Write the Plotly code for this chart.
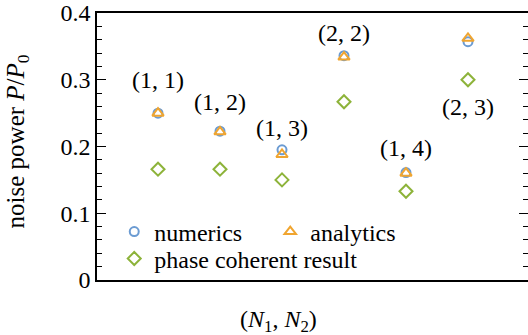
import plotly.graph_objects as go

categories = ["(1, 1)", "(1, 2)", "(1, 3)", "(2, 2)", "(1, 4)", "(2, 3)"]
positions = [1, 2, 3, 4, 5, 6]
numerics = [0.250, 0.223, 0.195, 0.336, 0.161, 0.357]
analytics = [0.250, 0.222, 0.188, 0.334, 0.160, 0.362]
phase_coherent = [0.166, 0.166, 0.150, 0.267, 0.133, 0.300]
label_y = [0.300, 0.267, 0.228, 0.370, 0.198, 0.259]

BLUE = "#6b9bd2"
ORANGE = "#f0a530"
GREEN = "#8db33a"
FONT = "Times New Roman, Liberation Serif, serif"
FS = 24

fig = go.Figure()
fig.add_trace(go.Scatter(x=positions, y=numerics, mode="markers", name="numerics", legend="legend",
                         marker=dict(symbol="circle-open", size=9, color=BLUE, line=dict(width=2))))
fig.add_trace(go.Scatter(x=positions, y=analytics, mode="markers", name="analytics", legend="legend",
                         marker=dict(symbol="triangle-up-open", size=10, color=ORANGE, line=dict(width=2))))
fig.add_trace(go.Scatter(x=positions, y=phase_coherent, mode="markers", name="phase coherent result",
                         legend="legend2",
                         marker=dict(symbol="diamond-open", size=10, color=GREEN, line=dict(width=2))))
# invisible trace for right-hand tick axis
fig.add_trace(go.Scatter(x=[positions[0]], y=[numerics[0]], yaxis="y2", mode="markers",
                         marker=dict(opacity=0), showlegend=False, hoverinfo="skip"))

for xp, yp, lab in zip(positions, label_y, categories):
    fig.add_annotation(x=xp, y=yp, text=lab, showarrow=False,
                       font=dict(family=FONT, size=FS, color="black"))

fig.add_annotation(xref="paper", yref="paper", x=0.422, y=-0.153,
                   text="(<i>N</i><sub>1</sub>, <i>N</i><sub>2</sub>)", showarrow=False,
                   font=dict(family=FONT, size=FS, color="black"), yanchor="middle")
fig.add_annotation(xref="paper", yref="paper", x=-0.185, y=0.52, textangle=-90,
                   text="noise power <i>P</i>/<i>P</i><sub>0</sub>", showarrow=False,
                   font=dict(family=FONT, size=25, color="black"), xanchor="center", yanchor="middle")

legend_common = dict(orientation="h", x=0.04, xanchor="left", yanchor="middle",
                     bgcolor="rgba(0,0,0,0)", entrywidthmode="pixels",
                     font=dict(family=FONT, size=FS, color="black"))

fig.update_layout(
    width=528, height=335,
    margin=dict(l=97, r=0, t=13, b=55),
    paper_bgcolor="white", plot_bgcolor="white",
    font=dict(family=FONT, size=FS, color="black"),
    xaxis=dict(range=[0.016, 6.968], showticklabels=False, ticks="", showgrid=False,
               zeroline=False, showline=True, linecolor="black", linewidth=1.5, mirror=True),
    yaxis=dict(range=[0, 0.4], dtick=0.1, tick0=0, ticks="inside", ticklen=9, tickwidth=1,
               tickcolor="black", showgrid=False, zeroline=False, showline=True,
               linecolor="black", linewidth=1.5,
               minor=dict(dtick=0.02, ticks="inside", ticklen=5, tickwidth=1, tickcolor="black"),
               tickfont=dict(family=FONT, size=FS, color="black")),
    yaxis2=dict(range=[0, 0.4], overlaying="y", side="right", dtick=0.1, tick0=0,
                ticks="inside", ticklen=9, tickwidth=1, tickcolor="black", showticklabels=False,
                showgrid=False, zeroline=False, showline=False,
                minor=dict(dtick=0.02, ticks="inside", ticklen=5, tickwidth=1, tickcolor="black")),
    legend=dict(y=0.18, entrywidth=111, **legend_common),
    legend2=dict(y=0.079, entrywidth=0, **legend_common),
    showlegend=True,
)

fig.write_html("out.html", config={"displayModeBar": False},
               post_script="document.body.style.margin='0';")
